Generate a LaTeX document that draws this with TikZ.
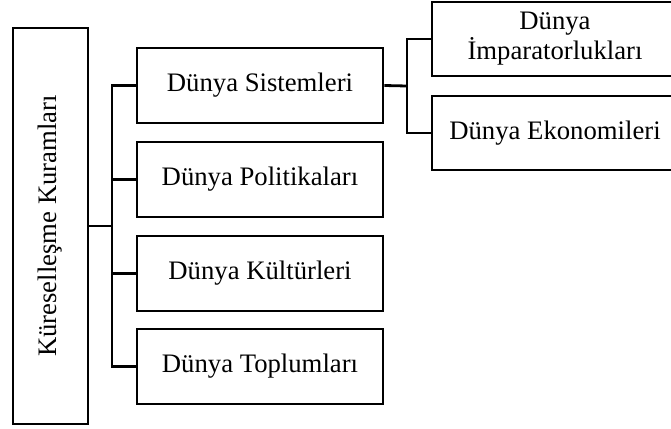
\documentclass[tikz,border=0pt]{standalone}
\usepackage{fontspec}
\setmainfont{Liberation Serif}
\begin{document}
\begin{tikzpicture}[x=1pt,y=-1pt,
  box/.style={draw,line width=2.8pt,rectangle,inner sep=0pt,align=center,
    font=\fontsize{26.7}{30}\selectfont},
  lvl/.style={box,minimum width=246pt,minimum height=75pt},
  conn/.style={line width=2.8pt}]
\useasboundingbox (0,0) rectangle (671,428);
\node[box,minimum width=75pt,minimum height=396pt] (L) at (50.5,226) {};
\node[rotate=90,font=\fontsize{26.7}{30}\selectfont] (Lt) at (50.5,226) {Küreselleşme Kuramları};
\node[lvl] (s1) at (260,85.5) {Dünya Sistemleri};
\node[lvl] (s2) at (260,179.5) {Dünya Politikaları};
\node[lvl] (s3) at (260,273.5) {Dünya Kültürleri};
\node[lvl] (s4) at (260,366.5) {Dünya Toplumları};
\node[lvl,minimum height=74pt] (r1) at (555,39) {Dünya\\İmparatorlukları};
\node[lvl,minimum height=74pt] (r2) at (555,133) {Dünya Ekonomileri};
\coordinate (j1) at (112,226);
\coordinate (j2) at (407,86);
\draw[conn] (L.east) -- (j1);
\draw[conn] (s1.west) -| (j1) |- (s4.west);
\draw[conn] (s2.west) -- (s2.west -| j1);
\draw[conn] (s3.west) -- (s3.west -| j1);
\draw[conn] (s1.east) -- (j2);
\draw[conn] (r1.west) -| (j2) |- (r2.west);
\end{tikzpicture}
\end{document}
